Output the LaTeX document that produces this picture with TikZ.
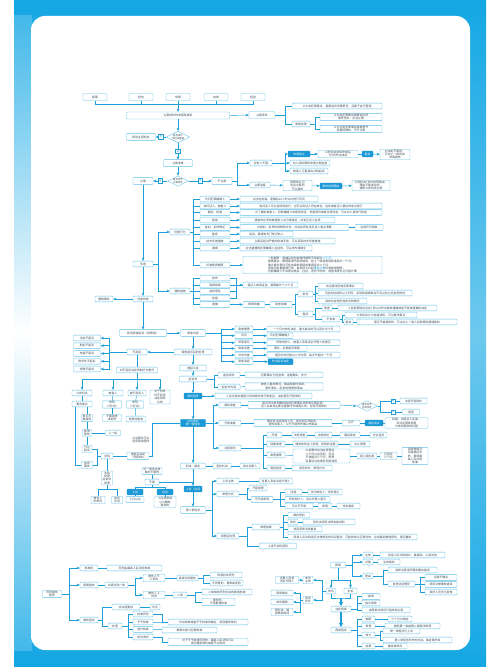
\documentclass[tikz,border=0pt]{standalone}
\usepackage{fontspec}
\setmainfont{Noto Sans CJK SC}
\usetikzlibrary{arrows.meta,shapes.geometric,calc}
\definecolor{frm}{HTML}{14A7E4}
\definecolor{lnc}{HTML}{1E9FD8}
\definecolor{bdc}{HTML}{62BFE7}
\definecolor{hlc}{HTML}{1B98D5}
\definecolor{txc}{HTML}{3D4C58}
\newcommand\bxfont{\fontsize{4.3}{5.1}\selectfont}
\tikzset{
  >={Stealth[length=1.7mm,width=1.4mm]},
  bx/.style={draw=bdc,rounded corners=1.2pt,fill=white,text=txc,font=\bxfont,inner sep=0.8pt,minimum height=8.6pt,align=center,line width=0.55pt},
  hl/.style={bx,fill=hlc,draw=hlc,text=white},
  lt/.style={bx,align=left},
  dia/.style={diamond,aspect=2,draw=bdc,fill=white,text=txc,font=\fontsize{3.6}{4.2}\selectfont,inner sep=0.3pt,align=center,line width=0.55pt},
  lbl/.style={draw=lnc,fill=white,text=lnc,font=\fontsize{3.6}{4}\selectfont,inner sep=0.6pt,minimum size=7pt},
  wd/.style={minimum width=#1*1.5pt},
  ln/.style={draw=lnc,line width=0.65pt},
  ar/.style={ln,->},
  big/.style={draw=lnc,line width=1.6pt,-{Stealth[length=2.2mm,width=2.4mm]}},
  note/.style={text=txc,font=\bxfont,align=center,inner sep=0pt},
}

\begin{document}
\begin{tikzpicture}[x=1.5pt,y=-1.5pt]
\useasboundingbox (0,0) rectangle (500,667);
\fill[white] (0,0) rectangle (500,667);
\shade[top color=frm,bottom color=frm,middle color=frm!62] (14,0) rectangle (486,667);
\shade[top color=frm!80,bottom color=frm!80,middle color=white] (14,16) rectangle (32,650);
\fill[white,rounded corners=21pt] (31,16) rectangle (470,650);

% 立案
\node[bx,wd=24,minimum height=10.5pt] (t1) at (95,97) {报案}; \node[bx,wd=24,minimum height=10.5pt] (t2) at (141,97) {控告};
\node[bx,wd=24,minimum height=10.5pt] (t3) at (178,97) {举报}; \node[bx,wd=24,minimum height=10.5pt] (t4) at (216,97) {自首};
\node[bx,wd=24,minimum height=10.5pt] (t5) at (253,97) {扭送};
\node[bx,wd=103,minimum height=10.5pt] (src) at (178,115.5) {立案材料的来源和接受};
\draw[ln] (t1.south) -- ++(0,3.5) -| (t5.south);
\foreach \t in {t2,t3,t4} \draw[ln] (\t.south) -- ++(0,3.5);
\draw[ar] (t3.south) ++(0,3.5) -- (src.north);
\node[bx,wd=26,minimum height=10.5pt] (cond) at (262,115) {立案条件};
\draw[ar] (src.east) -- (cond.west);
\node[bx,wd=90] (cond1) at (337,106) {认为有犯罪事实，需要追究刑事责任，且属于自己管辖};
\node[bx,wd=18] (cond2) at (301,124) {审查处理};
\node[bx,wd=62] (cond3) at (351,117) {认为有犯罪事实需要追究刑\\事责任的，应当立案};
\node[bx,wd=62] (cond4) at (351,129) {认为没有犯罪事实或者情节\\显著轻微的，不予立案};
\foreach \c in {cond1,cond2} \draw[ln] (cond.east) -- ++(10,0) |- (\c.west);
\foreach \c in {cond3,cond4} \draw[ln] (cond2.east) -- ++(5,0) |- (\c.west);

\node[dia] (own) at (178,137) {是否属于\\本机关管辖};
\node[bx,wd=29,minimum height=10pt] (move) at (141,137) {移送主管机关};
\node[bx,wd=29,minimum height=10pt] (chk) at (178,163) {立案审查};
\node[dia] (fit) at (178,181) {是否符合\\立案条件};
\node[bx,wd=20,minimum height=10pt] (lian) at (143,181) {立案};
\node[bx,wd=20,minimum height=10pt] (bulian) at (222,181) {不立案};
\draw[ar] (src.south) -- (own.north);
\draw[ar] (own.west) -- (move.east) node[lbl,midway] (no1) {否};
\draw[ar] (own.south) -- (chk.north) node[lbl,midway] (yes1) {是};
\draw[ar] (chk.south) -- (fit.north);
\draw[ar] (fit.west) -- (lian.east) node[lbl,midway] (yes2) {是};
\draw[ar] (fit.east) -- (bulian.west) node[lbl,midway] (no2) {否};

\node[bx,wd=22] (kg) at (261,163) {控告人不服};
\node[bx,wd=20] (jd) at (260,185) {立案监督};
\foreach \c in {kg,jd} \draw[ar] (bulian.east) -- ++(5,0) |- (\c.west);
\node[hl,wd=22] (fy) at (299,154) {申请复议};
\node[bx,wd=40] (fy1) at (338,154) {公安机关收到申请后\\7日内作出决定};
\node[hl,wd=11] (fh) at (367.5,154) {复核};
\node[bx,wd=30] (fh1) at (395,154.5) {对决定不服的，\\可向上一级机关\\申请复核};
\node[bx,wd=40] (kg2) at (310,163) {向人民检察院申请立案监督};
\node[bx,wd=38] (kg3) at (309,171) {被害人可直接向法院起诉};
\foreach \c in {fy,kg2,kg3} \draw[ar] (kg.east) -- ++(13,0) |- (\c.west);
\draw[ar] (fy) -- (fy1); \draw[ln] (fy1) -- (fh); \draw[ar] (fh) -- (fh1);
\node[bx,wd=29] (jd1) at (297.5,185.5) {检察院认为\\应当立案而\\不立案的};
\node[hl,wd=22] (jd2) at (331,186) {要求说明理由};
\node[bx,wd=38] (jd3) at (371,185.5) {公安机关7日内说明理由，\\理由不能成立的，\\通知公安机关立案};
\draw[ar] (jd) -- (jd1); \draw[ar] (jd1) -- (jd2); \draw[ar] (jd2) -- (jd3);

% 侦查
\node[bx,wd=20] (zc) at (143,264) {侦查};
\node[bx,wd=20] (xw) at (180,232) {侦查行为};
\node[bx,wd=20] (qz) at (180,291) {强制措施};
\draw[ar] (lian.south) -- (zc.north);
\foreach \n in {xw,qz} \draw[ar] (zc.east) -- ++(5,0) |- (\n.west);
\node[bx,wd=30] (a1) at (215,199) {讯问犯罪嫌疑人};
\node[bx,wd=30] (a2) at (215,206) {询问证人、被害人};
\node[bx,wd=30] (a3) at (215,212.5) {勘验、检查};
\node[bx,wd=30] (a4) at (215,220) {搜查};
\node[bx,wd=30] (a5) at (215,227.5) {查封、扣押物证};
\node[bx,wd=30] (a6) at (215,234) {鉴定};
\node[bx,wd=30] (a7) at (215,241) {技术侦查措施};
\node[bx,wd=30] (a8) at (215,248) {通缉};
\node[bx,wd=30] (a9) at (215,265) {侦查羁押期限};
\foreach \i in {1,...,9} \draw[ln] (xw.east) -- ++(3,0) |- (a\i.west);
\node[bx,wd=78] (b1) at (279,199) {应当在拘留、逮捕后24小时以内进行讯问};
\node[bx,wd=142] (b2) at (311,206) {询问证人可以在现场进行，也可以到证人所在单位、住处或者证人提出的地点进行};
\node[bx,wd=142] (b3) at (311,212.5) {为了确定被害人、犯罪嫌疑人的某些特征、伤害情况或者生理状态，可以对人身进行检查};
\node[bx,wd=95] (b4) at (287.5,220) {搜查时必须向被搜查人出示搜查证，并有见证人在场};
\node[bx,wd=109] (b5) at (294.5,227.5) {对查封、扣押的财物和文件，应当会同在场见证人查点清楚};
\node[bx,wd=28] (b5x) at (369,227.5) {当场开列清单};
\node[bx,wd=53] (b6) at (266.5,234) {指派、聘请有专门知识的人};
\node[bx,wd=95] (b7) at (287.5,241) {立案后经过严格的批准手续，可以采取技术侦查措施};
\node[bx,wd=72] (b8) at (276,248) {应当逮捕的犯罪嫌疑人在逃的，可以发布通缉令};
\node[lt,wd=139] (b9) at (312.5,265) {一般期限：逮捕后的侦查羁押期限不得超过\textcolor{lnc}{二个月}；\\案情复杂、期限届满不能终结的，经上一级检察院批准延长一个月；\\重大复杂案件可经省级检察院批准再延长二个月；\\发现另有重要罪行的，自发现之日起\textcolor{lnc}{重新计算}侦查羁押期限；\\犯罪嫌疑人不讲真实姓名、住址，身份不明的，自查清身份之日起计算};
\foreach \i in {1,...,9} \draw[ar] (a\i.east) -- (b\i.west);
\draw[ln] (b5.east) -- (b5x.west);

\node[bx,wd=30] (k1) at (215,278) {拘传};
\node[bx,wd=30] (k2) at (215,285) {取保候审};
\node[bx,wd=30] (k3) at (215,291.5) {监视居住};
\node[bx,wd=30] (k4) at (215,298) {拘留};
\node[bx,wd=30] (k5) at (215,304.5) {逮捕};
\foreach \i in {1,...,5} \draw[ln] (qz.east) -- ++(3,0) |- (k\i.west);
\node[bx,wd=55] (kq) at (270.5,285) {保证人或保证金，期限最长十二个月};
\foreach \i in {1,...,4} \draw[ln] (k\i.east) -- ++(6,0) |- (kq.west);
\draw[ar] (k2.east) -- (kq.west);
\node[bx,wd=22] (pb) at (254,304.5) {提请批捕};
\node[bx,wd=22] (pz) at (281,304.5) {审查批捕};
\draw[ar] (k5.east) -- (pb.west); \draw[ln] (pb.east) -- (pz.west);
\node[bx,wd=15] (tj) at (305.5,294) {条件}; \node[bx,wd=15] (cx2) at (305.5,314) {程序};
\foreach \n in {tj,cx2} \draw[ln] (pz.east) -- ++(3.5,0) |- (\n.west);
\node[bx,wd=45] (tj1) at (340.5,286) {有证据证明有犯罪事实};
\node[bx,wd=94] (tj2) at (365,293) {可能判处徒刑以上刑罚，采取取保候审尚不足以防止社会危险性};
\node[bx,wd=49] (tj3) at (342.5,301) {具有社会危险性的五种情形};
\foreach \n in {tj1,tj2,tj3} \draw[ln] (tj.east) -- ++(2,0) |- (\n.west);
\node[bx,wd=10] (sh) at (327,308) {审查};
\node[bx,wd=99] (shb) at (387.5,308) {人民检察院应当在7日以内作出批准逮捕或者不批准逮捕的决定};
\node[bx,wd=18] (bpz) at (331,319) {不批准};
\node[bx,wd=72] (bpz1) at (381,315) {公安机关认为有错误的，可以要求复议};
\node[bx,wd=9] (tq) at (348.5,322) {复核};
\node[bx,wd=100] (tq1) at (407,322) {意见不被接受的，可以向上一级人民检察院提请复核};
\foreach \n in {sh,bpz} \draw[ln] (cx2.east) -- ++(2,0) |- (\n.west);
\draw[ln] (sh.east) -- (shb.west);
\foreach \n in {bpz1,tq} \draw[ln] (bpz.east) -- ++(2,0) |- (\n.west);
\draw[ln] (tq.east) -- (tq1.west);

% 审查起诉
\node[bx,wd=20] (zj) at (143,299) {侦查终结};
\node[bx,wd=18] (cxaj) at (104,299) {撤销案件};
\draw[ar] (zc.south) -- (zj.north); \draw[ar] (zj.west) -- (cxaj.east);
\node[bx,wd=47,minimum height=10pt] (scqs) at (143,333) {移送审查起诉（检察院）};
\draw[ar] (zj.south) -- (scqs.north);
\node[bx,wd=25,minimum height=10pt] (sc) at (193,333) {审查内容};
\draw[ar] (scqs.east) -- (sc.west);
\node[bx,wd=18] (sl1) at (244,329) {审查期限}; \node[bx,wd=73] (sr1) at (303.5,329) {一个月内作出决定，重大复杂的可以延长半个月};
\node[bx,wd=18] (sl2) at (244,335.7) {讯问}; \node[bx,wd=26] (sr2) at (280,335.7) {讯问犯罪嫌疑人};
\node[bx,wd=18] (sl3) at (244,342.7) {听取意见}; \node[bx,wd=73] (sr3) at (303.5,342.7) {听取辩护人、被害人及其诉讼代理人的意见};
\node[bx,wd=18] (sl4) at (244,348.5) {审查证据}; \node[bx,wd=40] (sr4) at (287,348.5) {事实、证据是否清楚};
\node[bx,wd=18] (sl5) at (244,355) {补充侦查}; \node[bx,wd=73] (sr5) at (303.5,355) {退回补充侦查以二次为限，每次不超过一个月};
\node[bx,wd=18] (sl6) at (244,361.7) {审查决定}; \node[hl,wd=25] (sr6) at (280.5,361.7) {作出起诉决定};
\foreach \i in {1,...,6} {\draw[ar] (sc.east) -- ++(15.5,0) |- (sl\i.west); \draw[ar] (sl\i.east) -- (sr\i.west);}

\node[bx,wd=38] (sq) at (193,352) {审查起诉后的处理};
\draw[ar] (sc.south) -- (sq.north);
\node[bx,wd=20] (bq) at (137,352) {不起诉};
\draw[ar] (sq.west) -- (bq.east);
\node[bx,wd=27] (n1) at (87,338) {法定不起诉}; \node[bx,wd=27] (n2) at (87,345.7) {酌定不起诉};
\node[bx,wd=27] (n3) at (87,353.5) {存疑不起诉}; \node[bx,wd=27] (n4) at (87,361.3) {附条件不起诉};
\node[bx,wd=27] (n5) at (87,369) {特殊不起诉};
\foreach \i in {1,...,5} \draw[ar] (bq.west) -- ++(-18,0) |- (n\i.east);
\node[bx,wd=41] (kb) at (137,370) {对不起诉决定的制约与救济};
\draw[ln] (bq.south) -- (kb.north);

% 不起诉的救济
\node[bx,wd=20] (q1) at (82,393) {公安机关}; \node[bx,wd=20] (q2) at (113,393) {被害人};
\node[bx,wd=18] (q3) at (137,393) {被不起诉人}; \node[bx,wd=20] (q4) at (160,397) {对于附条\\件不起诉\\决定有异\\议的};
\foreach \n in {q1,q2,q3,q4} \draw[ar] (kb.south) -- ++(0,6) -| (\n.north);
\node[bx,wd=20] (q1b) at (82,404) {要求复议};
\node[bx,wd=19] (q2b) at (112,404.5) {申诉\\（7日内）}; \node[bx,wd=17] (q3b) at (135,404.5) {申诉\\（7日内）};
\node[bx,wd=19] (q2c) at (112,418) {不服复查\\决定的}; \node[bx,wd=20] (q3c) at (136,419) {检察院复查};
\draw[ln] (q1) -- (q1b); \draw[ln] (q2) -- (q2b); \draw[ln] (q2b) -- (q2c);
\draw[ln] (q3) -- (q3b); \draw[ln] (q3b) -- (q3c);
\node[bx,wd=11] (q1c) at (87,418) {意见不\\被接受}; \node[bx,wd=9] (q1d) at (87,433) {提请\\复核};
\node[bx,wd=15] (q1g) at (113,433) {上一级};
\node[bx,wd=10] (q1e) at (87,449) {可以\\起诉}; \node[bx,wd=11] (q1f) at (87,465) {自诉\\案件};
\draw[ln] (q1b.south -| q1c.north) -- (q1c.north); \draw[ln] (q1c) -- (q1d); \draw[ln] (q1d) -- (q1e);
\draw[ln] (q1d.east) -- (q1g.west);
\draw[ln] ($(q1b.south west)+(3,0)$) |- (q1f.west);
\coordinate (j5) at (97,456);
\node[bx,wd=12] (q5) at (107,456) {法院};
\node[bx,wd=22] (q6) at (138,456) {审查后决定\\开庭审判};
\draw[ln] (q1e.east) -| (j5) -- (q5.west); \draw[ln] (q1f.east) -| (j5);
\draw[ln] (q5.east) -- (q6.west);
\node[note] (qt) at (141,440) {公诉案件可以\\适用简易程序};
\node[bx,wd=11] (q7) at (107,478) {法院\\受理\\后依法\\审理};
\node[bx,wd=14] (q8) at (98,500) {被告人\\的权利}; \node[bx,wd=11] (q9) at (117,500) {自诉\\反诉};
\draw[ln] (q5.south) -- (q7.north);
\foreach \n in {q8,q9} \draw[ln] (q7.south) -- ++(0,4) -| (\n.north);

% 公诉与一审
\node[bx,wd=27] (c1) at (193,368) {提起公诉};
\node[bx,wd=27] (c2) at (193,379) {起诉书};
\draw[ar] (sq.south) -- (c1.north); \draw[ar] (c1.south) -- (c2.north);
\node[bx,wd=22] (c2a) at (229,375) {起诉条件}; \node[bx,wd=78] (c2a2) at (284,375) {犯罪事实已经查清，证据确实、充分};
\node[bx,wd=22] (c2b) at (229,387) {起诉书内容}; \node[bx,wd=78] (c2b2) at (284,386.5) {被告人基本情况、案由和案件来源、\\案件事实、起诉的根据和理由};
\foreach \n in {c2a,c2b} \draw[ln] (c2.east) -- ++(7.5,0) |- (\n.west);
\draw[ln] (c2a.east) -- (c2a2.west); \draw[ln] (c2b.east) -- (c2b2.west);
\node[hl,wd=18] (h1) at (193,396) {审判程序}; \draw[ar] (c2.south) -- (h1.north);
\node[bx,wd=97] (h1r) at (263.5,396) {人民法院对提起公诉的案件进行审查后，决定是否开庭审判};
\draw[ar] (h1.east) -- (h1r.west);
\node[hl,wd=25] (h2) at (193,423) {公诉案件\\第一审程序}; \draw[ar] (h1.south) -- (h2.north);
\draw[ln] (q6.east) -- ++(3,0) |- (h2.west);
\node[bx,wd=22] (ha) at (230,405) {庭前审查}; \node[bx,wd=22] (hb) at (230,423) {开庭准备};
\node[bx,wd=22] (hc) at (230,448) {法庭审判};
\foreach \n in {ha,hb,hc} \draw[ar] (h2.east) -- ++(7.5,0) |- (\n.west);
\node[bx,wd=92] (ha2) at (294,405) {起诉书中有明确的指控犯罪事实并附有证据目录、\\证人名单和主要证据复印件或照片的，应当开庭审判};
\node[dia] (d3) at (367,406) {是否符合\\开庭条件};
\draw[ln] (ha.east) -- (ha2.west); \draw[ar] (ha2.east) -- (d3.west);
\node[lbl] (ly) at (393,401) {是}; \node[lbl] (lno) at (393,412) {否};
\node[bx,wd=27] (ly1) at (413.5,401) {决定开庭审判}; \node[bx,wd=17] (ln1) at (411,412) {退回};
\foreach \n in {ly,lno} \draw[ln] (d3.east) -- ++(3,0) |- (\n.west);
\draw[ln] (ly) -- (ly1); \draw[ln] (lno) -- (ln1);
\node[bx,wd=78] (hb2) at (293,423) {确定合议庭组成人员、送达起诉书副本、\\通知当事人、公开开庭的先期公布案由};
\node[bx,wd=18] (hb3) at (351,423) {召开}; \node[hl,wd=18] (hb4) at (374,423) {庭前会议};
\node[bx,wd=43] (hb5) at (406.5,423) {回避、出庭证人名单、\\非法证据排除等\\与审判相关的问题};
\draw[ln] (hb) -- (hb2); \draw[ln] (hb2) -- (hb3); \draw[ln] (hb3) -- (hb4); \draw[ln] (hb4) -- (hb5);
\node[bx,wd=15] (f1) at (274.5,435) {开庭}; \node[bx,wd=15] (f1b) at (299.5,435) {法庭调查};
\node[bx,wd=17] (f1c) at (323.5,435) {法庭辩论}; \node[bx,wd=20] (f1d) at (350,435) {最后陈述};
\node[bx,wd=17] (f1e) at (378.5,435) {评议宣判};
\draw[ln] (f1) -- (f1b); \draw[ln] (f1b) -- (f1c); \draw[ln] (f1c) -- (f1d); \draw[ln] (f1d) -- (f1e);
\node[bx,wd=18] (f2) at (276,444) {延期审理}; \node[bx,wd=45] (f2b) at (315.5,444) {通知新的证人到庭、调取新证据};
\node[bx,wd=20] (f2c) at (360,444) {中止审理};
\draw[ln] (f2) -- (f2b); \draw[ln] (f2b) -- (f2c);
\node[bx,wd=18] (f3) at (276,455) {审理期限};
\node[lt,wd=57] (f3b) at (321.5,456) {公诉案件应当在受理后\\二个月以内宣判，至迟\\不得超过三个月；附带\\民事诉讼的案件同样适用};
\node[bx,wd=20] (f3c) at (367,456) {经上级批准}; \node[bx,wd=17] (f3d) at (388.5,456) {可延长\\三个月};
\node[bx,wd=26] (f3e) at (415,456) {因特殊情况\\还需要延长\\的，报请最\\高人民法院\\批准};
\draw[ln] (f3) -- (f3b); \draw[ln] (f3b) -- (f3c); \draw[ln] (f3c) -- (f3d); \draw[ln] (f3d) -- (f3e);
\node[bx,wd=18] (f4) at (276,468) {简易程序}; \node[bx,wd=40] (f4b) at (312,468) {适用条件、审理方式};
\draw[ln] (f4) -- (f4b);
\foreach \n in {f1,f2,f3,f4} \draw[ln] (hc.east) -- ++(22,0) |- (\n.west);

% 二审
\node[bx,wd=25] (m3) at (193,466) {判决、裁定}; \draw[ar] (h2.south) -- (m3.north);
\node[bx,wd=18] (m3a) at (222,466) {宣告判决}; \node[bx,wd=20] (m3b) at (250,466) {送达当事人};
\draw[ln] (m3.east) -- (m3a.west); \draw[ln] (m3a.east) -- (m3b.west);
\node[hl,wd=18] (m4) at (193,489) {上诉、抗诉}; \draw[ar] (m3.south) -- (m4.north);
\node[bx,wd=20] (p3) at (152,471) {对一审未生效\\裁判不服的};
\node[bx,wd=14] (p0) at (152,482) {不服};
\node[hl,wd=16] (p1) at (135,492) {上诉}; \node[hl,wd=16] (p2) at (165,492) {抗诉};
\node[bx,wd=18] (p1b) at (135,499.5) {十日以内}; \node[bx,wd=22] (p2b) at (165,502) {人民检察院\\认为确有\\错误的};
\draw[ln] (p3.south) -- (p0.north); \draw[ln] (p0.east) -- (p0.east -| m4.north);
\foreach \n in {p1,p2} \draw[ln] (p0.south) -- ++(0,2) -| (\n.north);
\draw[ln] (p1) -- (p1b); \draw[ln] (p2) -- (p2b);
\node[bx,wd=25,minimum height=10pt] (m5) at (193,510) {第二审程序}; \draw[ar] (m4.south) -- (m5.north);
\node[bx,wd=22] (g1) at (228,481) {上诉主体}; \node[bx,wd=22] (g2) at (228,494) {审理方式};
\node[bx,wd=22] (g3) at (228,536) {审理后处理};
\foreach \n in {g1,g2,g3} \draw[ar] (m5.east) -- ++(6.5,0) |- (\n.west);
\node[bx,wd=33] (g1b) at (276,481) {当事人及其法定代理人}; \draw[ln] (g1) -- (g1b);
\node[bx,wd=18] (g2a) at (258,488) {开庭审理}; \node[bx,wd=22] (g2b) at (262,499.5) {不开庭审理};
\foreach \n in {g2a,g2b} \draw[ln] (g2.east) -- ++(8,0) |- (\n.west);
\node[bx,wd=17] (g2c) at (293.5,492) {阅卷}; \node[bx,wd=34] (g2d) at (325,492) {讯问被告人、听取意见};
\node[bx,wd=45] (g2e) at (307.5,499.5) {听取辩护人、诉讼代理人意见};
\node[bx,wd=28] (g2f) at (299,506) {可以不开庭}; \node[bx,wd=14] (g2g) at (325,506) {审理};
\node[bx,wd=23] (g2h) at (348.5,506) {作出裁定};
\foreach \n in {g2c,g2e,g2f} \draw[ln] (g2b.east) -- ++(7,0) |- (\n.west);
\draw[ln] (g2c) -- (g2d); \draw[ln] (g2f) -- (g2g); \draw[ln] (g2g) -- (g2h);
\node[bx,wd=28] (g3a) at (266,527) {审理结果}; \node[bx,wd=37] (g3b) at (278,546) {上诉不加刑原则};
\foreach \n in {g3a,g3b} \draw[ln] (g3.east) -- ++(8,0) |- (\n.west);
\node[bx,wd=22] (g4) at (299,515) {维持原判};
\node[bx,wd=10] (g5) at (293,522) {改判}; \node[bx,wd=52] (g5b) at (329,522) {原判决适用法律有错误的};
\node[bx,wd=34] (g6) at (305,529) {发回原审法院重审};
\node[bx,wd=129] (g7) at (352.5,537) {原审人民法院违反法律规定的诉讼程序，可能影响公正审判的，应当裁定撤销原判，发回重审};
\foreach \n in {g4,g5,g6,g7} \draw[ln] (g3a.east) -- ++(3,0) |- (\n.west);
\draw[ln] (g5) -- (g5b);

% 死刑复核
\node[bx,wd=19] (z0) at (52,594) {死刑复核\\程序};
\node[bx,wd=18] (z1) at (89,568) {核准权}; \node[bx,wd=18] (z2) at (89,585) {报请复核};
\node[bx,wd=18] (z3) at (89,620) {复核程序};
\foreach \n in {z1,z2,z3} \draw[ar] (z0.east) -- ++(8,0) |- (\n.west);
\node[bx,wd=55] (z1b) at (134.5,568) {死刑由最高人民法院核准}; \draw[ln] (z1) -- (z1b);
\node[bx,wd=23] (z2b) at (116.5,585) {中级法院一审}; \draw[ln] (z2) -- (z2b);
\node[bx,wd=22] (z2c) at (154,578) {被告人不\\上诉的}; \node[bx,wd=22] (z2e) at (154,595) {被告人上\\诉的};
\foreach \n in {z2c,z2e} \draw[ar] (z2b.east) -- ++(7,0) |- (\n.west);
\node[bx,wd=21] (z2d) at (187.5,578) {高级法院复核}; \draw[ln] (z2c) -- (z2d);
\node[bx,wd=32] (zd1) at (226,575) {同意判处死刑}; \node[bx,wd=33] (zd2) at (226.5,583) {不同意的，提审或发回};
\foreach \n in {zd1,zd2} \draw[ln] (z2d.east) -- ++(5,0) |- (\n.west);
\node[bx,wd=14] (z2f) at (180,595) {二审}; \draw[ln] (z2e) -- (z2f);
\node[bx,wd=50] (ze1) at (227,592) {二审维持死刑判决的报请核准}; \node[bx,wd=33] (ze2) at (218.5,602) {改判的，\\不再报请核准};
\foreach \n in {ze1,ze2} \draw[ln] (z2f.east) -- ++(8,0) |- (\n.west);
\node[bx,wd=28] (z3a) at (126,607) {合议庭复核}; \node[bx,wd=10] (z3b) at (155,607) {讯问};
\node[bx,wd=14] (z3c) at (115,626) {处理};
\foreach \n in {z3a,z3c} \draw[ln] (z3.east) -- ++(4,0) |- (\n.west);
\draw[ln] (z3a) -- (z3b);
\node[bx,wd=20] (z4) at (143,614) {核准死刑}; \node[bx,wd=20] (z5) at (143,622) {不予核准};
\node[bx,wd=20] (z6) at (143,629.5) {部分核准}; \node[bx,wd=20] (z7) at (143,637) {依法改判};
\foreach \n in {z4,z5,z6,z7} \draw[ln] (z3c.east) -- ++(6,0) |- (\n.west);
\node[bx,wd=80] (zr1) at (208,622) {作出核准或者不予核准的裁定，发回重新审判};
\node[bx,wd=55] (zr2) at (189.5,630) {数罪中部分犯罪核准};
\node[bx,wd=80] (zr3) at (208,642) {对于不予核准死刑的，最高人民法院可以\\发回重新审判或者予以改判};
\foreach \n in {z4,z5} \draw[ln] (\n.east) -- ++(9,0) |- (zr1.west);
\draw[ln] (z6) -- (zr2); \draw[ln] (z7.east) -- ++(9,0) |- (zr3.west);

% 审判监督
\node[bx,wd=15] (w0) at (338,565) {再审};
\node[bx,wd=10] (wa) at (368,555) {主体}; \node[bx,wd=10] (wb) at (368,562) {对象};
\node[bx,wd=10] (wc) at (368,576) {理由};
\foreach \n in {wa,wb,wc} \draw[ar] (w0.east) -- ++(6.5,0) |- (\n.west);
\node[bx,wd=65] (wa2) at (412.5,555) {各级人民法院院长、最高院、上级法院}; \draw[ln] (wa) -- (wa2);
\node[bx,wd=22] (wb2) at (389,562) {生效裁判}; \draw[ln] (wb) -- (wb2);
\node[bx,wd=49] (wc1) at (412.5,570) {有新证据证明事实确有错误}; \node[bx,wd=27] (wc2) at (401.5,584) {其他法定情形};
\foreach \n in {wc1,wc2} \draw[ln] (wc.east) -- ++(10,0) |- (\n.west);
\node[bx,wd=32] (wd1) at (441,577.5) {证据不确实}; \node[bx,wd=32] (wd2) at (441,584.5) {适用法律确有错误};
\node[bx,wd=32] (wd3) at (441,592) {审判人员贪污受贿};
\foreach \n in {wd1,wd2,wd3} \draw[ln] (wc2.east) -- ++(5,0) |- (\n.west);
\node[bx,wd=9] (wl) at (331,591) {申诉}; \node[bx,wd=13] (wr) at (350.5,591) {抗诉};
\foreach \n in {wl,wr} \draw[ar] (w0.south) -- ++(0,12) -| (\n.north);
\node[bx,wd=10] (wl1) at (308,580) {申诉\\主体}; \node[bx,wd=10] (wl2) at (308,600) {申诉\\条件};
\foreach \n in {wl1,wl2} \draw[ar] (wl.west) -- ++(-4.5,0) |- (\n.east);
\node[bx,wd=23] (wl1b) at (287,580) {当事人及其\\法定代理人}; \draw[ar] (wl1.west) -- (wl1b.east);
\node[bx,wd=22] (wm1) at (282,593) {原审裁判}; \node[bx,wd=22] (wm2) at (282,602) {申诉期限};
\node[bx,wd=22] (wm3) at (282,612) {原判决、裁\\定确有错误};
\foreach \n in {wm1,wm2,wm3} \draw[ar] (wl2.west) -- ++(-3,0) |- (\n.east);
\coordinate (wj) at (341,598);
\draw[ln] (wl.south) |- (wj) -| (wr.south);
\node[bx,wd=20] (wx) at (341,609) {决定再审};
\draw[big] (wj) -- (wx.north);
\node[bx,wd=18] (wx1) at (371,596.5) {提审}; \node[bx,wd=18] (wx2) at (371,603) {指令再审};
\node[bx,wd=48] (wx3) at (386,610) {由原审法院另行组成合议庭};
\foreach \n in {wx1,wx2,wx3} \draw[ln] (wx.east) -- ++(6,0) |- (\n.west);
\node[bx,wd=20] (wy) at (341,630) {再审程序};
\draw[big] (wx.south) -- (wy.north);
\node[bx,wd=13] (wy1) at (368.5,619) {期限}; \node[bx,wd=13] (wy2) at (368.5,626) {审理};
\node[bx,wd=13] (wy3) at (368.5,635) {效力}; \node[bx,wd=13] (wy4) at (368.5,646) {结果};
\foreach \n in {wy1,wy2,wy3,wy4} \draw[ln] (wy.east) -- ++(6,0) |- (\n.west);
\node[bx,wd=24] (wy1b) at (400,619) {三个月内审结}; \draw[ln] (wy1) -- (wy1b);
\node[bx,wd=55] (wy2b) at (412.5,626) {按照第一审或第二审程序审理}; \draw[ln] (wy2) -- (wy2b);
\node[bx,wd=37] (wy3a) at (401.5,631) {第一审程序可上诉}; \node[bx,wd=69] (wy3b) at (417.5,640) {第二审程序所作的判决、裁定是终审};
\foreach \n in {wy3a,wy3b} \draw[ln] (wy3.east) -- ++(5,0) |- (\n.west);
\node[bx,wd=24] (wy4b) at (395,646) {维持或改判}; \draw[ln] (wy4) -- (wy4b);
\end{tikzpicture}
\end{document}
